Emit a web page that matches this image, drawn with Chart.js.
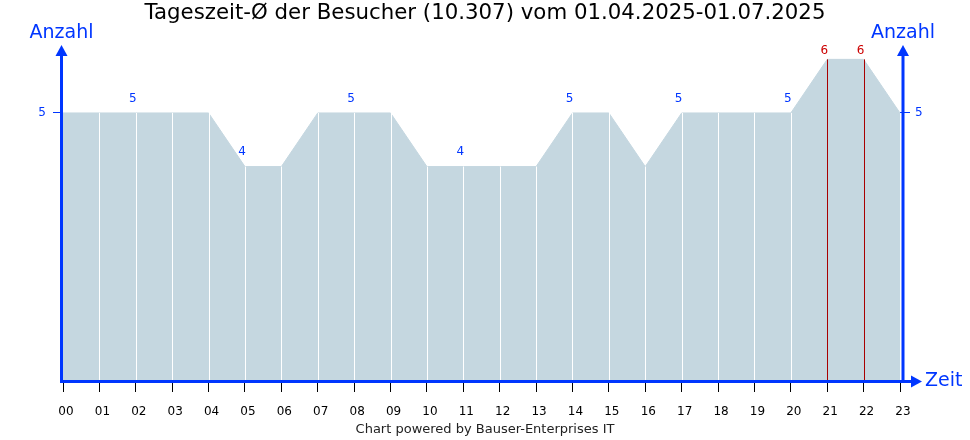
<!DOCTYPE html>
<html>
<head>
<meta charset="utf-8">
<script src="https://cdn.jsdelivr.net/npm/chart.js@4.4.1/dist/chart.umd.min.js"></script>
<style>
  html, body { margin: 0; padding: 0; background: #fff; }
  #wrap { width: 970px; height: 440px; }
</style>
</head>
<body>
<div id="wrap"><canvas id="chart"></canvas></div>
<script>
// === DATA ===
const hours = ['00', '01', '02', '03', '04', '05', '06', '07', '08', '09', '10', '11',
               '12', '13', '14', '15', '16', '17', '18', '19', '20', '21', '22', '23'];
const visitors = [5, 5, 5, 5, 5, 4, 4, 5, 5, 5, 4, 4, 4, 4, 5, 5, 4, 5, 5, 5, 5, 6, 6, 5];
const labeledHours = [2, 5, 8, 11, 14, 17, 20, 21, 22];
const yTickValues = [5];
const titleText = 'Tageszeit-Ø der Besucher (10.307) vom 01.04.2025-01.07.2025';
const footerText = 'Chart powered by Bauser-Enterprises IT';

const FONT = '"DejaVu Sans", Verdana, sans-serif';
const BLUE = '#0036ff';
const RED = '#cc0000';
const FILL = '#c5d7e0';

// axes, arrows, column lines and value labels
const decorPlugin = {
  id: 'decor',
  afterDatasetsDraw(chart) {
    const { ctx, chartArea: a, scales } = chart;
    const pts = chart.getDatasetMeta(0).data;
    const maxVal = Math.max(...visitors);
    const base = scales.y.getPixelForValue(0);
    ctx.save();

    // column lines
    pts.forEach((p, i) => {
      if (i === 0 || i === pts.length - 1) return;
      const isMax = visitors[i] === maxVal;
      ctx.strokeStyle = isMax ? '#a80000' : '#ffffff';
      ctx.lineWidth = 1;
      ctx.beginPath();
      ctx.moveTo(Math.round(p.x) + 0.5, base);
      ctx.lineTo(Math.round(p.x) + 0.5, p.y);
      ctx.stroke();
    });

    // axis lines
    ctx.strokeStyle = BLUE;
    ctx.fillStyle = BLUE;
    ctx.lineWidth = 3;
    const yb = a.bottom + 0.5;
    const xl = a.left - 1.5;
    const xr = a.right + 3;
    ctx.beginPath();
    ctx.moveTo(xl, a.top + 8);
    ctx.lineTo(xl, yb);
    ctx.lineTo(a.right + 12, yb);
    ctx.moveTo(xr, yb);
    ctx.lineTo(xr, a.top + 8);
    ctx.stroke();

    const upArrow = (x) => {
      ctx.beginPath();
      ctx.moveTo(x, a.top - 1);
      ctx.lineTo(x - 6, a.top + 10);
      ctx.lineTo(x + 6, a.top + 10);
      ctx.closePath();
      ctx.fill();
    };
    upArrow(xl);
    upArrow(xr);
    ctx.beginPath();
    ctx.moveTo(a.right + 22, yb);
    ctx.lineTo(a.right + 11, yb - 6);
    ctx.lineTo(a.right + 11, yb + 6);
    ctx.closePath();
    ctx.fill();

    // axis titles
    ctx.font = '19px ' + FONT;
    ctx.textAlign = 'center';
    ctx.textBaseline = 'middle';
    ctx.fillText('Anzahl', xl, 33);
    ctx.fillText('Anzahl', xr, 33);
    ctx.textAlign = 'left';
    ctx.fillText('Zeit', a.right + 25, yb);

    // value labels
    ctx.font = '12px ' + FONT;
    ctx.textAlign = 'center';
    labeledHours.forEach(i => {
      const p = pts[i];
      ctx.fillStyle = visitors[i] === maxVal ? RED : BLUE;
      const y = Math.max(p.y - 14.5, a.top + 5);
      ctx.fillText(String(visitors[i]), p.x - 3, y);
    });
    ctx.restore();
  }
};

const yAxis = (position, width, pad) => ({
  position,
  min: 0,
  max: 6.25,
  border: { display: false },
  grid: { drawOnChartArea: false, drawTicks: true, tickLength: 10, color: BLUE },
  ticks: { color: BLUE, font: { family: FONT, size: 12 }, padding: pad },
  afterBuildTicks: s => { s.ticks = yTickValues.map(v => ({ value: v })); },
  afterFit: s => { s.width = width; }
});

new Chart(document.getElementById('chart').getContext('2d'), {
  type: 'line',
  data: {
    labels: hours,
    datasets: [{
      data: visitors,
      backgroundColor: FILL,
      borderColor: FILL,
      borderWidth: 1,
      fill: 'origin',
      pointRadius: 0,
      tension: 0
    }]
  },
  options: {
    responsive: true,
    maintainAspectRatio: false,
    animation: false,
    layout: { padding: 0 },
    plugins: {
      legend: { display: false },
      tooltip: { enabled: false },
      title: {
        display: true,
        text: titleText,
        color: '#000',
        font: { family: FONT, size: 21.3, weight: 'normal' },
        padding: { top: 1, bottom: 19.4 }
      },
      subtitle: {
        display: true,
        position: 'bottom',
        text: footerText,
        color: '#222',
        font: { family: FONT, size: 13, weight: 'normal' },
        padding: { top: 0, bottom: 2.5 }
      }
    },
    scales: {
      x: {
        offset: false,
        border: { display: false },
        grid: { drawOnChartArea: false, drawTicks: true, tickLength: 11, color: '#000' },
        ticks: { color: '#000', font: { family: FONT, size: 12 }, padding: 13, labelOffset: 3, maxRotation: 0, autoSkip: false },
        afterFit: s => { s.height = 440 - 18.1 - 381; }
      },
      y: yAxis('left', 63, 7),
      y2: yAxis('right', 70, 5)
    }
  },
  plugins: [decorPlugin]
});
</script>
</body>
</html>
